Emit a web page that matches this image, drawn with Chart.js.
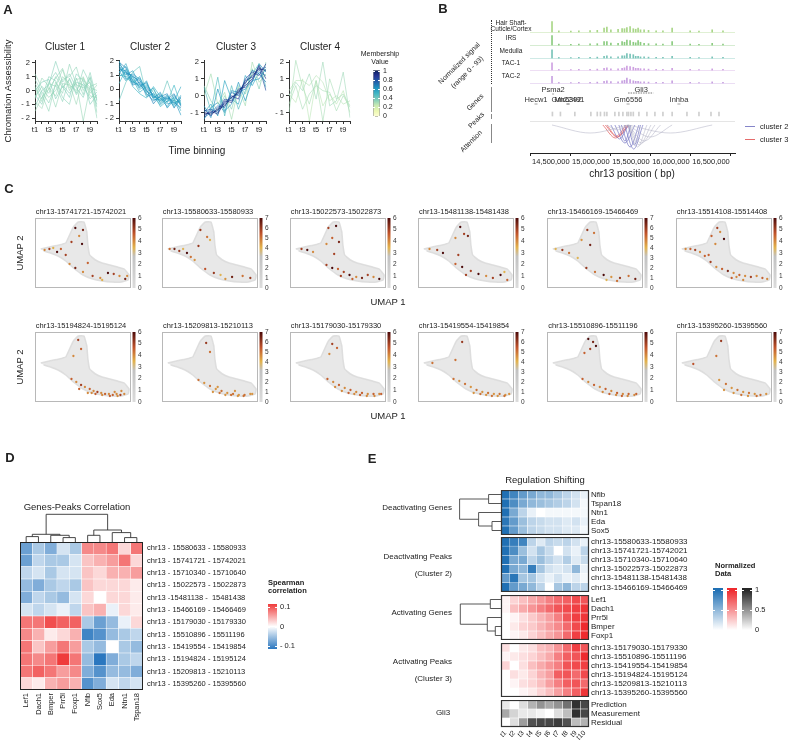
<!DOCTYPE html>
<html>
<head>
<meta charset="utf-8">
<title>Figure</title>
<script src="https://cdn.jsdelivr.net/npm/chart.js@4.4.1/dist/chart.umd.min.js"></script>
<style>
  body { margin:0; width:791px; height:742px; position:relative; overflow:hidden; background:#fff;
         font-family:"Liberation Sans", Arial, Helvetica, sans-serif; color:#222; }
  canvas { position:absolute; }
  .t { position:absolute; white-space:pre; line-height:1; transform-origin:0 0; filter:grayscale(100%); }
  .rule { position:absolute; }
</style>
</head>
<body>
<script>
// ---------------- data : panel A ----------------
const T_BINS = ['t1','t2','t3','t4','t5','t6','t7','t8','t9','t10'];

const C1_LINES = [
  [-0.5, 0.3, -0.2, 1.0, 0.2, 0.8, -0.3, 0.5, 0.1, -1.0],
  [0.2, -0.8, 0.5, 0.3, 1.5, 0.0, 0.8, 0.9, -0.4, -0.5],
  [-1.2, 0.0, 0.4, 2.1, 0.6, 1.2, 0.2, -0.5, 1.0, -0.8],
  [0.5, -0.3, -1.5, 0.6, -0.2, 1.9, 0.4, 0.2, 0.6, -2.0],
  [-0.8, -1.3, 0.2, -0.4, 1.0, 0.5, -1.0, 1.0, -0.2, 0.4],
  [0.0, 0.6, 0.8, -0.6, 0.3, -0.5, 1.2, 0.7, -1.0, -0.3],
  [-1.5, -0.5, 0.1, 0.9, 1.6, 0.2, 0.5, -2.2, 0.3, 0.5],
  [0.8, -0.1, -0.9, 0.4, -0.8, 0.9, -0.2, 1.5, 0.5, -1.2],
  [-0.3, -1.0, 0.6, 1.3, 0.4, -0.2, 0.6, 0.4, -0.6, -0.1],
  [1.2, 0.2, -0.5, 0.0, 0.8, 1.0, 1.7, 0.0, 0.9, -1.6],
  [-0.6, 0.9, 0.3, -1.2, 0.5, 0.4, 0.0, 0.8, 0.2, 0.0],
  [0.3, -0.6, 1.0, 0.7, -0.5, -1.0, 0.9, -0.3, 1.3, -0.7]
];
const C1_MEMBER = [0.35, 0.33, 0.36, 0.34, 0.32, 0.37, 0.33, 0.35, 0.36, 0.34, 0.33, 0.35];

const C2_LINES = [
  [1.8, 1.2, 0.9, 0.6, 0.1, -0.4, -0.8, -0.5, -0.9, -1.3],
  [1.5, 1.0, 1.3, 0.3, 0.4, -0.6, -0.3, -0.9, -0.4, -1.1],
  [2.0, 0.8, 0.5, 0.9, -0.2, 0.1, -1.0, -0.6, -1.2, -0.7],
  [1.2, 1.6, 0.6, 0.2, 0.5, -0.5, -0.6, -1.2, -0.5, -1.0],
  [1.6, 1.1, 1.0, 0.4, -0.3, -0.8, -0.5, -0.3, -1.3, -0.5],
  [0.4, 1.4, 0.8, 0.0, 0.3, -0.2, -1.2, -0.8, -0.6, -1.5],
  [1.3, 0.6, 1.1, 0.7, -0.5, -0.3, -0.6, -1.0, -0.9, -0.8],
  [1.9, 1.5, 0.3, 0.5, 0.0, -1.0, -0.4, -0.7, -0.3, -1.2],
  [1.0, 0.9, 0.7, -0.2, 0.2, -0.4, -0.9, -0.5, -1.0, -0.6],
  [-0.8, 0.5, 1.2, 1.6, -0.4, 0.0, -0.8, 0.6, -0.8, -0.9],
  [1.4, 1.3, 0.4, 0.8, -0.1, -0.6, -0.2, -1.3, -0.7, -1.8],
  [1.7, 0.7, 0.9, 0.1, 0.6, -0.7, -0.7, -0.4, -1.1, -0.4],
  [0.9, 1.2, 0.2, -0.3, -0.6, 0.2, -0.5, -0.9, 0.3, -1.1],
  [1.1, 1.8, 0.5, 0.3, -0.1, -0.5, -1.1, -0.6, -0.8, 0.2]
];
const C2_MEMBER = [0.62, 0.58, 0.55, 0.6, 0.64, 0.5, 0.57, 0.66, 0.53, 0.42, 0.6, 0.56, 0.5, 0.54];

const C3_LINES = [
  [-1.0, -1.1, -0.8, -0.6, -0.1, 0.2, 0.8, 1.2, 1.6, 1.5],
  [-1.2, -0.9, -1.1, -0.3, -0.4, 0.3, 0.6, 1.0, 1.8, 1.0],
  [-0.8, -1.2, -0.7, -0.5, 0.0, -0.2, 1.0, 1.4, 1.2, 1.9],
  [-1.1, -1.0, -0.9, -0.2, -0.3, 0.4, 0.5, 0.9, 1.7, 0.3],
  [-0.9, -0.8, -1.0, -0.4, -0.1, 0.1, 0.9, 1.1, 1.5, 1.7],
  [-1.3, -1.0, -0.6, -0.7, 0.2, 0.0, 0.7, 1.5, 1.3, 0.8],
  [0.5, -0.9, 1.1, -1.2, 0.6, -0.8, 0.3, 1.3, 1.9, 0.5],
  [-0.6, -1.3, 0.4, -0.9, -0.5, 0.8, -0.3, 0.9, 1.0, 1.6],
  [0.0, 1.3, -0.5, 0.2, -1.4, 0.5, -0.6, 2.0, 0.8, 1.3],
  [-1.0, -0.5, -1.2, 0.9, -0.2, -0.5, 1.2, 0.6, 1.4, 1.2],
  [-1.4, -0.7, -0.4, -1.0, 0.3, 0.2, 0.4, 0.8, 1.9, 1.4],
  [0.6, -0.3, -0.9, 0.0, -0.8, 0.6, 0.1, 1.6, 0.4, 2.0]
];
const C3_MEMBER = [0.95, 0.9, 0.85, 0.8, 0.75, 0.7, 0.45, 0.6, 0.3, 0.55, 0.65, 0.35];

const C4_LINES = [
  [-1.0, 2.1, 0.5, -0.5, 0.9, -1.5, 1.0, -0.2, 0.1, -0.6],
  [0.3, 0.9, 0.9, 0.6, 1.2, 0.8, -0.3, 0.0, -0.5, -0.3],
  [0.0, 0.8, 0.3, 1.3, -0.2, 2.0, -0.6, -0.3, 1.4, -1.3],
  [-0.5, 0.6, -0.8, 0.1, 0.6, 0.3, 0.2, -0.9, 0.0, -0.7],
  [0.1, -0.4, 1.0, -1.5, 0.9, -0.6, 0.1, -0.5, 0.3, -1.0]
];
const C4_MEMBER = [0.3, 0.28, 0.32, 0.3, 0.27];

const MEMBER_TICKS = [0, 0.2, 0.4, 0.6, 0.8, 1];

// ---------------- data : panel B ----------------
const TRACK_NAMES = ['Hair Shaft-Cuticle/Cortex', 'IRS', 'Medulla', 'TAC-1', 'TAC-2'];
const PEAK_POS = [14515000, 14990000, 15080000, 15165000, 15200000, 15340000, 15390000, 15450000,
                  15490000, 15530000, 15590000, 15665000, 15815000, 16015000, 16240000, 16515000,
                  14600000, 14750000, 14850000, 15250000, 15420000, 15560000, 15620000, 15720000,
                  15900000, 16350000, 16650000];
const SIG_HAIR    = [0.95, 0.12, 0.15, 0.35, 0.45, 0.25, 0.3, 0.4, 0.5, 0.3, 0.35, 0.2, 0.1, 0.35, 0.1, 0.2,
                     0.1, 0.08, 0.1, 0.2, 0.3, 0.25, 0.2, 0.15, 0.1, 0.08, 0.1];
const SIG_IRS     = [0.85, 0.1, 0.12, 0.3, 0.3, 0.15, 0.3, 0.45, 0.4, 0.25, 0.4, 0.15, 0.1, 0.3, 0.08, 0.15,
                     0.08, 0.06, 0.08, 0.18, 0.25, 0.2, 0.25, 0.12, 0.08, 0.06, 0.08];
const SIG_MEDULLA = [0.75, 0.05, 0.08, 0.15, 0.2, 0.1, 0.2, 0.4, 0.35, 0.3, 0.15, 0.1, 0.05, 0.15, 0.05, 0.1,
                     0.05, 0.04, 0.05, 0.1, 0.2, 0.15, 0.1, 0.08, 0.05, 0.04, 0.05];
const SIG_TAC1    = [0.65, 0.05, 0.08, 0.15, 0.2, 0.1, 0.15, 0.35, 0.3, 0.25, 0.15, 0.1, 0.05, 0.15, 0.05, 0.1,
                     0.05, 0.04, 0.05, 0.1, 0.2, 0.15, 0.12, 0.08, 0.05, 0.04, 0.05];
const SIG_TAC2    = [0.6, 0.05, 0.08, 0.15, 0.2, 0.1, 0.2, 0.45, 0.3, 0.2, 0.15, 0.1, 0.05, 0.2, 0.05, 0.1,
                     0.05, 0.04, 0.05, 0.12, 0.25, 0.15, 0.1, 0.08, 0.05, 0.04, 0.05];
const PEAK_SITES = [14520000, 14620000, 14800000, 15000000, 15080000, 15120000, 15170000, 15200000, 15300000,
                    15350000, 15400000, 15450000, 15470000, 15500000, 15530000, 15600000, 15700000, 15800000,
                    15900000, 16015000, 16200000, 16350000, 16500000, 16600000];
const GENES_UPPER = ['Psma2', 'Gli3'];
const GENES_UPPER_POS = [14528000, 15628000];
const GLI3_SPAN = [15465000, 15780000];
const GENES_LOWER = ['Hecw1', 'Mir6392', 'Gm22491', 'Gm6556', 'Inhba'];
const GENES_LOWER_POS = [14315000, 14715000, 14715000, 15465000, 16100000];
const ARC_START = [14515000, 15465000, 15465000, 15465000, 15465000, 15465000, 15200000, 15465000,
                   15250000, 15300000, 15380000, 15420000, 15465000, 15350000, 15150000, 15200000, 15180000];
const ARC_END   = [15465000, 16515000, 16015000, 15870000, 15800000, 15750000, 15465000, 15700000,
                   15465000, 15550000, 15600000, 15650000, 15620000, 15500000, 15465000, 15440000, 15480000];
const ARC_WEIGHT = [8, 8, 12, 16, 18, 20, 5, 22, 14, 18, 22, 24, 20, 16, 13, 11, 12];
const ARC_GROUP  = [0, 0, 0, 0, 0, 0, 0, 0, 2, 2, 2, 2, 2, 2, 3, 3, 3];
const B_TICKS = [14500000, 15000000, 15500000, 16000000, 16500000];

// ---------------- data : panel C ----------------
const UMAP_X = [0.6, 1.5, 2.5, 3.2, 3.6, 4.0, 4.5, 5.1, 5.4, 5.5, 5.7, 6.3, 7.0, 7.8, 8.6, 9.3, 9.8, 9.7,
                9.0, 8.0, 7.0, 6.0, 5.0, 4.0, 3.2, 2.4, 1.6, 0.9];
const UMAP_Y = [3.9, 4.1, 4.3, 4.5, 5.3, 6.1, 6.6, 6.6, 5.6, 4.4, 3.3, 2.8, 2.5, 2.3, 2.1, 1.9, 1.3, 0.8,
                0.6, 0.6, 0.7, 0.9, 1.3, 2.0, 2.7, 3.2, 3.5, 3.7];
const C_TITLES = ['chr13-15741721-15742021', 'chr13-15580633-15580933', 'chr13-15022573-15022873',
                  'chr13-15481138-15481438', 'chr13-15466169-15466469', 'chr13-15514108-15514408',
                  'chr13-15194824-15195124', 'chr13-15209813-15210113', 'chr13-15179030-15179330',
                  'chr13-15419554-15419854', 'chr13-15510896-15511196', 'chr13-15395260-15395560'];
const C_MAX = [6, 7, 6, 6, 7, 6, 6, 7, 6, 7, 6, 7];
const DOTS_1 = [[1.0,3.8,4],[1.5,3.9,5],[1.9,4.0,3.5],[2.3,3.6,6],[2.7,3.9,4.5],[3.2,3.3,5],[4.2,6.0,6],[5.0,5.8,5.5],[4.6,5.2,4],[3.8,4.6,5],[4.9,4.4,6],[3.6,2.4,4],[4.2,2.0,5.5],[5.0,1.6,4],[6.0,1.2,5],[6.8,1.0,4],[7.6,1.5,6],[8.2,1.4,5],[8.8,1.2,4],[9.4,0.9,5.5],[9.6,1.2,4],[5.5,2.5,4.5],[7.0,0.8,3.5]];
const DOTS_2 = [[0.8,3.9,5],[1.3,3.9,6.5],[1.8,3.7,6],[2.2,3.9,4],[2.6,3.5,7],[3.0,3.1,5],[3.4,2.8,4.5],[4.0,5.8,6],[4.7,5.1,5],[3.8,4.2,6],[4.5,1.9,5.5],[5.4,1.5,6],[6.1,1.3,4],[7.3,1.1,6.5],[8.4,1.2,5],[9.2,1.0,6],[6.6,0.9,4.5],[5.0,4.8,4]];
const DOTS_3 = [[4.0,6.0,5],[4.8,6.2,6],[4.4,5.0,4.5],[5.1,4.6,5.5],[3.8,4.4,4],[1.2,3.9,5],[1.8,3.8,6],[2.4,3.6,4],[3.8,2.3,5],[4.4,2.0,6],[5.0,1.9,4.5],[5.6,1.6,5],[6.2,1.3,6],[6.9,1.1,4],[7.5,1.0,5.5],[8.1,1.3,5],[8.7,1.1,4],[9.3,0.9,6],[5.3,1.2,5],[6.5,0.9,4.5],[4.6,3.4,5]];
const DOTS_4 = [[4.4,6.1,6],[4.8,5.4,5],[3.9,5.0,4],[5.2,5.2,5.5],[1.2,3.9,4],[2.0,3.8,5],[2.6,3.5,6],[4.2,3.3,5],[3.9,2.4,4.5],[4.6,2.1,6],[5.5,1.7,5],[6.3,1.4,6],[7.1,1.2,4],[7.8,1.0,5],[8.6,1.3,6],[9.3,0.8,4.5],[5.0,1.3,5],[9.0,1.6,3.5]];
const DOTS_5 = [[4.2,5.8,6],[4.9,5.5,5],[3.6,4.8,4.5],[4.5,4.3,6.5],[0.9,3.9,4],[1.6,3.8,6],[2.3,3.5,5],[3.2,3.0,4],[4.1,2.0,6],[5.0,1.6,5],[5.9,1.3,7],[6.7,1.1,4.5],[7.6,1.0,6],[8.5,1.2,5],[9.2,0.9,6.5],[6.2,0.8,4],[7.3,0.7,5]];
const DOTS_6 = [[4.3,6.0,5],[4.6,5.6,4],[3.7,5.2,4.5],[5.0,4.9,6],[4.1,4.4,4],[1.0,3.9,4],[1.5,3.9,4.5],[2.0,3.8,5],[2.5,3.6,4],[3.0,3.2,4.5],[3.6,2.6,5],[4.2,2.1,4],[4.8,1.9,4.5],[5.4,1.7,5.5],[6.0,1.5,4],[6.6,1.3,4.5],[7.2,1.2,4],[7.8,1.1,5],[8.4,1.2,4],[9.0,1.0,4.5],[9.5,0.9,4],[5.8,1.0,4.5],[7.0,0.8,4],[3.4,3.3,4.5],[6.3,1.1,4]];
const DOTS_7 = [[4.5,6.2,5],[4.8,5.3,4.5],[4.0,4.6,4],[3.8,2.3,4.5],[4.3,2.0,4],[4.8,1.7,5],[5.2,1.5,4],[5.7,1.3,4.5],[6.1,1.1,4],[6.5,1.0,5],[6.9,0.9,4],[7.3,0.8,4.5],[7.7,0.8,4],[8.1,0.7,4.5],[8.5,0.8,4],[8.9,0.7,5],[9.3,0.8,4],[5.5,0.9,4],[6.3,0.8,4.5],[7.0,0.7,4],[7.8,0.6,4.5],[8.6,0.6,4],[9.0,1.1,4],[4.6,1.3,4.5],[5.9,0.9,4],[8.3,1.0,4]];
const DOTS_8 = [[4.6,5.9,6],[5.0,5.0,5],[3.8,2.2,5],[4.4,1.9,4.5],[5.0,1.6,5],[5.6,1.3,4.5],[6.2,1.1,5],[6.8,0.9,4.5],[7.4,0.8,5],[8.0,0.7,4.5],[8.6,0.7,5],[9.2,0.8,4.5],[5.3,1.0,4.5],[6.0,0.9,5],[6.6,0.7,4.5],[7.2,0.7,5],[7.9,0.6,4.5],[8.5,0.6,5],[9.4,0.8,4.5],[5.8,1.5,4.5],[7.6,1.1,4.5]];
const DOTS_9 = [[4.4,5.8,5],[4.9,5.4,4.5],[4.1,4.8,4],[3.9,2.3,4.5],[4.5,2.0,4],[5.1,1.7,4.5],[5.7,1.4,4],[6.3,1.2,4.5],[6.9,1.0,4],[7.5,0.9,4.5],[8.1,0.8,4],[8.7,0.8,4.5],[9.3,0.8,4],[5.4,1.1,4],[6.1,0.9,4.5],[6.7,0.8,4],[7.3,0.7,4.5],[8.0,0.6,4],[8.8,0.6,4],[9.5,0.8,4.5],[4.7,1.5,4]];
const DOTS_10 = [[4.6,6.0,6],[3.9,4.2,5],[1.5,3.9,5],[3.7,2.3,5],[4.3,2.1,4.5],[4.9,1.8,5],[5.5,1.5,4.5],[6.1,1.2,5],[6.7,1.0,4.5],[7.3,0.9,5],[7.9,0.8,4.5],[8.5,0.8,5],[9.1,0.7,4.5],[5.8,0.9,4.5],[6.5,0.8,5],[7.1,0.7,4.5],[7.7,0.6,5],[8.3,0.6,4.5],[9.0,0.6,5],[9.5,0.8,4.5]];
const DOTS_11 = [[4.3,6.3,6],[4.8,6.0,5.5],[5.1,5.6,6],[4.5,5.3,5],[3.9,4.9,4.5],[3.7,2.3,4.5],[4.3,2.0,4],[4.9,1.7,4.5],[5.5,1.5,4],[6.1,1.3,4.5],[6.7,1.1,4],[7.3,0.9,4.5],[7.9,0.8,4],[8.5,0.8,4.5],[9.1,0.7,4],[5.8,1.0,4],[6.5,0.8,4.5],[7.2,0.7,4],[7.8,0.6,4.5],[8.4,0.6,4],[9.3,0.8,4.5]];
const DOTS_12 = [[4.7,6.1,6],[4.2,4.6,5],[1.8,3.8,5.5],[4.5,2.2,4.5],[5.2,1.8,5],[5.8,1.4,4.5],[6.4,1.2,5],[7.0,1.0,4.5],[7.6,0.9,5],[8.2,0.8,4.5],[8.8,0.7,5],[9.4,0.8,4.5],[6.0,0.9,4.5],[6.8,0.7,5],[7.5,0.6,4.5],[8.4,0.6,5],[5.0,1.2,4.5]];
const C_DOTS = [DOTS_1, DOTS_2, DOTS_3, DOTS_4, DOTS_5, DOTS_6, DOTS_7, DOTS_8, DOTS_9, DOTS_10, DOTS_11, DOTS_12];

// ---------------- data : panel D ----------------
const D_GENES = ['Lef1', 'Dach1', 'Bmper', 'Prr5l', 'Foxp1', 'Nfib', 'Sox5', 'Eda', 'Ntn1', 'Tspan18'];
const D_PEAKS = ['chr13 - 15580633 - 15580933', 'chr13 - 15741721 - 15742021', 'chr13 - 15710340 - 15710640',
                 'chr13 - 15022573 - 15022873', 'chr13 -15481138 -  15481438', 'chr13 - 15466169 - 15466469',
                 'chr13 - 15179030 - 15179330', 'chr13 - 15510896 - 15511196', 'chr13 - 15419554 - 15419854',
                 'chr13 - 15194824 - 15195124', 'chr13 - 15209813 - 15210113', 'chr13 - 15395260 - 15395560'];
const D_CORR = [
  [-0.07, -0.04, -0.06, -0.02, -0.04, 0.06, 0.06, 0.07, 0.02, 0.07],
  [-0.07, -0.03, -0.04, -0.04, -0.02, 0.03, 0.04, 0.05, 0.07, 0.02],
  [-0.03, -0.02, -0.04, -0.02, -0.02, 0.03, 0.02, 0.04, 0.04, 0.05],
  [-0.05, -0.06, -0.04, -0.03, -0.04, 0.03, 0.02, 0.02, 0.02, 0.01],
  [-0.06, -0.03, -0.04, -0.05, -0.02, 0.02, 0.0, 0.02, 0.02, 0.01],
  [-0.02, -0.03, -0.02, -0.01, -0.03, 0.03, 0.04, -0.01, 0.02, 0.01],
  [0.07, 0.07, 0.09, 0.08, 0.08, -0.04, -0.07, -0.05, -0.01, 0.02],
  [0.06, 0.04, 0.01, 0.02, 0.04, -0.09, -0.08, -0.05, -0.04, -0.03],
  [0.07, 0.03, 0.05, 0.07, 0.05, -0.04, -0.05, 0.0, -0.04, -0.05],
  [0.07, 0.06, 0.07, 0.1, 0.07, -0.05, -0.1, -0.06, -0.04, -0.03],
  [0.07, 0.08, 0.07, 0.05, 0.06, -0.06, -0.08, -0.05, -0.05, -0.06],
  [0.02, 0.01, 0.04, 0.05, 0.04, -0.08, -0.06, -0.02, -0.03, -0.02]
];
// merges: [child, child, height]; children >= 10 refer to earlier merges
const D_DENDRO = [[0,1,5.4],[3,4,4.4],[2,11,6.7],[10,12,7.7],[5,6,6.7],[8,9,4.4],[7,15,9.4],[14,16,12],[13,17,27.7]];
const D_LEGEND_TICKS = [-0.1, 0, 0.1];

// ---------------- data : panel E ----------------
const E_DEACT_GENES = ['Nfib', 'Tspan18', 'Ntn1', 'Eda', 'Sox5'];
const E_DEACT_GENE_VALS = [
  [1, 0.85, 0.7, 0.6, 0.5, 0.5, 0.4, 0.3, 0.2, 0.1],
  [1, 0.8, 0.6, 0.5, 0.45, 0.4, 0.35, 0.3, 0.2, 0.05],
  [1, 0.6, 0.3, 0.1, 0.0, 0.05, 0.05, 0.05, 0.05, 0.05],
  [0.95, 0.7, 0.45, 0.3, 0.25, 0.2, 0.2, 0.15, 0.2, 0.1],
  [1, 0.7, 0.45, 0.3, 0.25, 0.2, 0.2, 0.15, 0.15, 0.05]
];
const E_DEACT_DENDRO = [[0,1,12.4],[3,4,9],[2,6,22.4],[5,7,41.4]];
const E_DEACT_PEAKS = ['chr13-15580633-15580933', 'chr13-15741721-15742021', 'chr13-15710340-15710640',
                       'chr13-15022573-15022873', 'chr13-15481138-15481438', 'chr13-15466169-15466469'];
const E_DEACT_PEAK_VALS = [
  [1, 0.9, 0.85, 0.3, 0.15, 0.3, 0.25, 0.3, 0.2, 0.1],
  [1, 0.8, 0.45, 0.2, 0.4, 0.25, 0.0, 0.2, 0.1, 0.3],
  [1, 0.6, 0.6, 0.3, 0.45, 0.3, 0.2, 0.35, 0.15, 0.25],
  [1, 0.6, 0.5, 0.9, 0.4, 0.2, 0.15, 0.2, 0.5, 0.1],
  [0.7, 0.95, 0.4, 0.4, 0.2, 0.1, 0.2, 0.1, 0.15, 0.05],
  [1, 0.7, 0.6, 0.5, 0.3, 0.0, 0.4, 0.5, 0.3, 0.3]
];
const E_ACT_GENES = ['Lef1', 'Dach1', 'Prr5l', 'Bmper', 'Foxp1'];
const E_ACT_GENE_VALS = [
  [0.05, 0.2, 0.3, 0.4, 0.5, 0.6, 0.7, 0.75, 0.85, 0.8],
  [0.05, 0.3, 0.4, 0.5, 0.6, 0.7, 0.8, 0.85, 0.9, 0.95],
  [0.0, 0.05, 0.15, 0.25, 0.35, 0.45, 0.6, 0.8, 0.9, 0.95],
  [0.0, 0.1, 0.2, 0.25, 0.35, 0.45, 0.55, 0.7, 0.85, 1],
  [0.0, 0.05, 0.1, 0.2, 0.3, 0.4, 0.5, 0.7, 0.9, 1]
];
const E_ACT_DENDRO = [[0,1,10.7],[3,4,5.7],[2,6,13.7],[5,7,40.7]];
const E_ACT_PEAKS = ['chr13-15179030-15179330', 'chr13-15510896-15511196', 'chr13-15419554-15419854',
                     'chr13-15194824-15195124', 'chr13-15209813-15210113', 'chr13-15395260-15395560'];
const E_ACT_PEAK_VALS = [
  [0.15, 0.0, 0.1, 0.15, 0.3, 0.35, 0.5, 0.7, 0.9, 0.8],
  [0.05, 0.1, 0.15, 0.2, 0.3, 0.4, 0.6, 0.75, 0.8, 1],
  [0.2, 0.0, 0.15, 0.3, 0.4, 0.5, 0.6, 0.8, 0.85, 0.9],
  [0.0, 0.15, 0.1, 0.2, 0.35, 0.45, 0.75, 0.8, 0.7, 0.85],
  [0.0, 0.05, 0.15, 0.2, 0.3, 0.45, 0.6, 0.75, 0.8, 0.7],
  [0.0, 0.0, 0.05, 0.1, 0.2, 0.3, 0.45, 0.6, 0.75, 0.95]
];
const E_GLI3_ROWS = ['Prediction', 'Measurement', 'Residual'];
const E_GLI3_VALS = [
  [0.1, 0.0, 0.15, 0.35, 0.5, 0.4, 0.5, 0.65, 0.95, 0.85],
  [0.4, 0.2, 0.1, 0.1, 0.05, 0.0, 0.15, 0.3, 0.95, 0.85],
  [0.0, 0.15, 0.45, 0.8, 0.85, 0.85, 0.9, 0.8, 0.3, 0.35]
];
const E_LEGEND_TICKS = [0, 0.5, 1];

// ---------------- colours ----------------
const YLGNBU = [[0,'#ffffd9'],[0.125,'#edf8b1'],[0.25,'#c7e9b4'],[0.375,'#7fcdbb'],[0.5,'#41b6c4'],
                [0.625,'#1d91c0'],[0.75,'#225ea8'],[0.875,'#253494'],[1,'#081d58']];
const UMAP_STOPS = [[0,'#dcdcdc'],[0.45,'#c2c2c2'],[0.58,'#e2b24c'],[0.78,'#c0532b'],[1,'#4b0a0a']];
const TRACK_COLORS = ['rgba(140,200,95,0.75)', 'rgba(100,185,85,0.75)', 'rgba(75,175,160,0.75)', 'rgba(190,130,215,0.75)', 'rgba(180,130,215,0.75)'];
const ARC_COLORS = { 0: 'rgba(175,175,195,0.65)', 2: 'rgba(112,112,192,0.85)', 3: 'rgba(226,92,92,0.9)' };

Chart.defaults.font.family = '"Liberation Sans", Arial, Helvetica, sans-serif';
Chart.defaults.color = '#222';
Chart.defaults.animation = false;
Chart.defaults.responsive = false;
Chart.defaults.devicePixelRatio = 1;
Chart.defaults.events = [];
Chart.defaults.plugins.legend.display = false;
Chart.defaults.plugins.tooltip.enabled = false;

function hexToRgb(h) { return [parseInt(h.slice(1,3),16), parseInt(h.slice(3,5),16), parseInt(h.slice(5,7),16)]; }
function ramp(stops, t) {
  t = Math.max(0, Math.min(1, t));
  for (let i = 1; i < stops.length; i++) {
    if (t <= stops[i][0]) {
      const a = stops[i-1], b = stops[i];
      const f = (t - a[0]) / (b[0] - a[0]);
      const ca = hexToRgb(a[1]), cb = hexToRgb(b[1]);
      return 'rgb(' + ca.map((v, k) => Math.round(v + (cb[k] - v) * f)).join(',') + ')';
    }
  }
  return stops[stops.length-1][1];
}
function withAlpha(rgb, a) { return rgb.replace('rgb(', 'rgba(').replace(')', ',' + a + ')'); }
function divColor(v) {
  const t = Math.max(-1, Math.min(1, v / 0.1));
  return t >= 0 ? ramp([[0,'#ffffff'],[1,'#ef3b3b']], t) : ramp([[0,'#ffffff'],[1,'#2b77bf']], -t);
}
function vGrad(ctx, yTop, yBot, stops) {
  const g = ctx.createLinearGradient(0, yBot, 0, yTop);
  stops.forEach(s => g.addColorStop(s[0], s[1]));
  return g;
}
// vertical axes: keep the plot box exactly where it is placed
function noPad(s) { s.paddingTop = 0; s.paddingBottom = 0; }

function txt(s, x, y, o) {
  o = o || {};
  const d = document.createElement('div');
  d.className = 't';
  d.textContent = s;
  d.style.fontSize = (o.size || 8) + 'px';
  if (o.bold) d.style.fontWeight = 'bold';
  const ax = o.align === 'left' ? '0%' : o.align === 'right' ? '-100%' : '-50%';
  d.style.left = x + 'px';
  d.style.top = y + 'px';
  d.style.transform = 'rotate(' + (o.rot || 0) + 'deg) translate(' + ax + ',-50%)';
  document.body.appendChild(d);
}
function rule(x, y, w, h, css) {
  const d = document.createElement('div');
  d.className = 'rule';
  d.style.left = x + 'px'; d.style.top = y + 'px';
  d.style.width = w + 'px'; d.style.height = h + 'px';
  d.style.cssText += css;
  document.body.appendChild(d);
}
function canvasAt(x, y, w, h) {
  const c = document.createElement('canvas');
  c.width = w; c.height = h;
  c.style.left = x + 'px'; c.style.top = y + 'px';
  c.style.width = w + 'px'; c.style.height = h + 'px';
  document.body.appendChild(c);
  return c;
}
function dendro(ctx, merges, leaves, map, color) {
  const nodes = leaves.map(p => ({ p: p, h: 0 }));
  ctx.save();
  ctx.strokeStyle = color || '#333';
  ctx.lineWidth = 0.9;
  ctx.beginPath();
  merges.forEach(m => {
    const a = nodes[m[0]], b = nodes[m[1]];
    const pts = [map(a.p, a.h), map(a.p, m[2]), map(b.p, m[2]), map(b.p, b.h)];
    ctx.moveTo(pts[0][0], pts[0][1]);
    pts.slice(1).forEach(q => ctx.lineTo(q[0], q[1]));
    nodes.push({ p: (a.p + b.p) / 2, h: m[2] });
  });
  ctx.stroke();
  ctx.restore();
}
function legendBar(o) {
  const c = canvasAt(o.x, o.y - 6, o.w + o.labelW, o.h + 12);
  return new Chart(c, {
    type: 'scatter',
    data: { datasets: [] },
    options: {
      layout: { padding: { top: 6, bottom: 6 } },
      scales: {
        x: { display: false, min: 0, max: 1 },
        y: { position: 'right', min: o.min, max: o.max,
             afterFit: s => { s.width = o.labelW; noPad(s); },
             afterBuildTicks: s => { s.ticks = o.ticks.map(v => ({ value: v })); },
             ticks: { autoSkip: false, font: { size: o.size }, padding: o.pad, callback: o.fmt, color: '#222' },
             grid: { display: false, drawTicks: false }, border: { display: false } }
      }
    },
    plugins: [{ id: 'paint', beforeDatasetsDraw: ch => o.paint(ch.ctx, ch.chartArea, ch.scales.y) }]
  });
}
function whiteTicks(ctx, x0, x1, sy, vals) {
  ctx.save();
  ctx.strokeStyle = '#fff';
  ctx.lineWidth = 1;
  ctx.beginPath();
  vals.forEach(v => {
    const y = Math.round(sy.getPixelForValue(v)) + 0.5;
    ctx.moveTo(x0, y); ctx.lineTo(x0 + 2, y);
    ctx.moveTo(x1 - 2, y); ctx.lineTo(x1, y);
  });
  ctx.stroke();
  ctx.restore();
}

// ================= PANEL A =================
txt('A', 8, 9, { size: 13, bold: true });
txt('Chromation Assessibility', 8, 91, { size: 9.5, rot: -90 });
txt('Time binning', 197, 151, { size: 10 });
txt('Membership', 380, 53, { size: 7 });
txt('Value', 380, 61, { size: 7 });

const A_PANELS = [
  { title: 'Cluster 1', lines: C1_LINES, member: C1_MEMBER, alpha: 0.75, min: -2.2, max: 2.2, ticks: [-2,-1,0,1,2], left: 35, width: 62, cx: 65 },
  { title: 'Cluster 2', lines: C2_LINES, member: C2_MEMBER, alpha: 0.8, min: -2.2, max: 2.05, ticks: [-2,-1,0,1,2], left: 119, width: 62, cx: 150 },
  { title: 'Cluster 3', lines: C3_LINES, member: C3_MEMBER, alpha: 0.85, min: -1.5, max: 2.12, ticks: [-1,0,1,2], left: 204, width: 62, cx: 236 },
  { title: 'Cluster 4', lines: C4_LINES, member: C4_MEMBER, alpha: 0.75, min: -1.5, max: 2.12, ticks: [-1,0,1,2], left: 289, width: 61, cx: 320 }
];
A_PANELS.forEach(p => {
  txt(p.title, p.cx, 47, { size: 10 });
  const L = 20, T = 5, R = 4, B = 20, H = 61;
  const c = canvasAt(p.left - L, 60 - T, p.width + L + R, H + T + B);
  new Chart(c, {
    type: 'line',
    data: {
      labels: T_BINS,
      datasets: p.lines.map((ln, k) => ({
        data: ln,
        borderColor: withAlpha(ramp(YLGNBU, p.member[k]), p.alpha),
        borderWidth: 0.8, pointRadius: 0, tension: 0
      }))
    },
    options: {
      layout: { padding: { top: T, right: R } },
      scales: {
        x: { offset: false, afterFit: s => { s.height = B; },
             grid: { drawOnChartArea: false, tickLength: 3, color: '#333' }, border: { color: '#333' },
             ticks: { autoSkip: false, maxRotation: 0, padding: 1, font: { size: 7.5 }, color: '#222',
                      callback: (v, i) => i % 2 === 0 ? T_BINS[i] : '' } },
        y: { min: p.min, max: p.max, afterFit: s => { s.width = L; noPad(s); },
             afterBuildTicks: s => { s.ticks = p.ticks.map(v => ({ value: v })); },
             grid: { drawOnChartArea: false, tickLength: 3, color: '#333' }, border: { color: '#333' },
             ticks: { autoSkip: false, font: { size: 7.5 }, padding: 2, color: '#222', callback: v => v < 0 ? '- ' + (-v) : String(v) } }
      }
    }
  });
});
legendBar({
  x: 373, y: 70, w: 7, h: 47, labelW: 24, min: -0.02, max: 1.02, ticks: MEMBER_TICKS, size: 7, pad: 3,
  fmt: v => String(v),
  paint: (ctx, a, sy) => {
    ctx.fillStyle = vGrad(ctx, a.top, a.bottom, YLGNBU);
    ctx.fillRect(a.left, a.top, a.right - a.left, a.bottom - a.top);
    ctx.strokeStyle = '#999'; ctx.lineWidth = 0.6;
    ctx.strokeRect(a.left + 0.3, a.top + 0.3, a.right - a.left - 0.6, a.bottom - a.top - 0.6);
    whiteTicks(ctx, a.left, a.right, sy, MEMBER_TICKS);
  }
});

// ================= PANEL B =================
txt('B', 443, 8, { size: 13, bold: true });
[['Hair Shaft-', 22.5], ['Cuticle/Cortex', 29], ['IRS', 38], ['Medulla', 51], ['TAC-1', 63], ['TAC-2', 76]]
  .forEach(l => txt(l[0], 511, l[1], { size: 6.5 }));
rule(491, 20, 0, 64, 'border-left:1.3px dotted #333;');
rule(490.5, 87, 1.5, 25, 'background:#888;');
rule(490.5, 114, 1.5, 5, 'background:#888;');
rule(490.5, 124, 1.5, 19, 'background:#888;');
txt('Normalized signal', 459, 63, { size: 7, rot: -45 });
txt('(range 0 - 93)', 467, 72, { size: 7, rot: -45 });
txt('Genes', 475, 102, { size: 7, rot: -45 });
txt('Peaks', 476, 120, { size: 7, rot: -45 });
txt('Attention', 471, 141, { size: 7, rot: -45 });
txt('chr13 position ( bp)', 632, 174, { size: 10 });
rule(745, 126, 10, 1.2, 'background:' + ARC_COLORS[2] + ';');
rule(745, 139, 10, 1.2, 'background:' + ARC_COLORS[3] + ';');
txt('cluster 2', 760, 126.5, { size: 7.5, align: 'left' });
txt('cluster 3', 760, 139.5, { size: 7.5, align: 'left' });

// vertical layout of the track stack, in pixels below the chart top
const TRACK_BASE = [17, 30, 43, 55, 68];
const TRACK_SPAN = 11;
const SIGNALS = [SIG_HAIR, SIG_IRS, SIG_MEDULLA, SIG_TAC1, SIG_TAC2];
const Y_UPPER_GENE = 75, Y_GLI3 = 78, Y_LOWER_GENE = 85, Y_GENE_MARK = 89, Y_PEAK_TOP = 97, Y_PEAK_BOT = 101, Y_PEAK_LINE = 106, Y_ARC = 110;

const bCanvas = canvasAt(520, 15, 223, 138 + 14);
new Chart(bCanvas, {
  type: 'bar',
  data: {
    datasets: [
      ...SIGNALS.map((sig, k) => ({
        type: 'bar', grouped: false, barThickness: 1, backgroundColor: TRACK_COLORS[k],
        data: PEAK_POS.map((p, i) => ({ x: p, y: [TRACK_BASE[k], TRACK_BASE[k] - sig[i] * TRACK_SPAN] }))
      })),
      { type: 'bar', grouped: false, barThickness: 1, backgroundColor: '#cfcfcf',
        data: PEAK_SITES.map(p => ({ x: p, y: [Y_PEAK_BOT, Y_PEAK_TOP] })) },
      ...ARC_START.map((s, i) => ({
        type: 'line', borderColor: ARC_COLORS[ARC_GROUP[i]], borderWidth: 0.8, pointRadius: 0,
        cubicInterpolationMode: 'monotone',
        data: [{ x: s, y: Y_ARC }, { x: (s + ARC_END[i]) / 2, y: Y_ARC + ARC_WEIGHT[i] }, { x: ARC_END[i], y: Y_ARC }]
      }))
    ]
  },
  options: {
    layout: { padding: { left: 10, right: 8 } },
    scales: {
      x: { type: 'linear', offset: false, min: 14240000, max: 16800000,
           afterFit: s => { s.height = 14; },
           afterBuildTicks: s => { s.ticks = B_TICKS.map(v => ({ value: v })); },
           grid: { drawOnChartArea: false, tickLength: 3, color: '#222' }, border: { color: '#222' },
           ticks: { autoSkip: false, font: { size: 7.5 }, padding: 1, maxRotation: 0, color: '#222', callback: v => v.toLocaleString('en-US') } },
      y: { display: false, reverse: true, min: 0, max: 138 }
    }
  },
  plugins: [{
    id: 'tracks',
    beforeDatasetsDraw(ch) {
      const ctx = ch.ctx, a = ch.chartArea, sy = ch.scales.y;
      ctx.save();
      ctx.lineWidth = 0.6;
      TRACK_BASE.forEach((b, k) => {
        const y = Math.round(sy.getPixelForValue(b)) + 0.5;
        ctx.strokeStyle = TRACK_COLORS[k];
        ctx.globalAlpha = 0.6;
        ctx.beginPath(); ctx.moveTo(a.left, y); ctx.lineTo(a.right, y); ctx.stroke();
      });
      ctx.globalAlpha = 1;
      const yp = Math.round(sy.getPixelForValue(Y_PEAK_LINE)) + 0.5;
      ctx.strokeStyle = '#d4d4d4';
      ctx.beginPath(); ctx.moveTo(a.left, yp); ctx.lineTo(a.right, yp); ctx.stroke();
      ctx.restore();
    },
    afterDatasetsDraw(ch) {
      const ctx = ch.ctx, sx = ch.scales.x, sy = ch.scales.y;
      ctx.save();
      ctx.font = '7.5px "Liberation Sans", Arial, sans-serif';
      ctx.fillStyle = '#333';
      ctx.textAlign = 'center';
      ctx.textBaseline = 'middle';
      GENES_UPPER.forEach((g, i) => ctx.fillText(g, sx.getPixelForValue(GENES_UPPER_POS[i]), sy.getPixelForValue(Y_UPPER_GENE)));
      GENES_LOWER.forEach((g, i) => ctx.fillText(g, sx.getPixelForValue(GENES_LOWER_POS[i]), sy.getPixelForValue(Y_LOWER_GENE)));
      ctx.strokeStyle = '#555';
      ctx.lineWidth = 0.8;
      ctx.setLineDash([1.5, 1]);
      const yg = sy.getPixelForValue(Y_GLI3);
      ctx.beginPath(); ctx.moveTo(sx.getPixelForValue(GLI3_SPAN[0]), yg); ctx.lineTo(sx.getPixelForValue(GLI3_SPAN[1]), yg); ctx.stroke();
      ctx.setLineDash([]);
      ctx.strokeStyle = '#888';
      ctx.beginPath();
      const ym = sy.getPixelForValue(Y_GENE_MARK);
      GENES_LOWER_POS.forEach(p => { const x = sx.getPixelForValue(p); ctx.moveTo(x - 1.5, ym); ctx.lineTo(x + 1.5, ym); });
      const yu = sy.getPixelForValue(Y_UPPER_GENE + 4);
      GENES_UPPER_POS.slice(0, 1).forEach(p => { const x = sx.getPixelForValue(p); ctx.moveTo(x - 1, yu); ctx.lineTo(x + 1, yu); });
      ctx.stroke();
      ctx.restore();
    }
  }]
});

// ================= PANEL C =================
txt('C', 9, 188, { size: 13, bold: true });
const C_BOX_X = [31, 158, 286, 414, 543, 672];
const C_BOX_Y = [218, 332];
const C_BOX_W = 100, C_BOX_H = 70, C_PAD = 6;
txt('UMAP 2', 20, 253, { size: 9.5, rot: -90 });
txt('UMAP 2', 20, 367, { size: 9.5, rot: -90 });
txt('UMAP 1', 388, 302, { size: 9.5 });
txt('UMAP 1', 388, 416, { size: 9.5 });

const umapDeco = {
  id: 'umapDeco',
  afterDraw(ch) {
    const ctx = ch.ctx, a = ch.chartArea, cb = ch.scales.cb;
    ctx.save();
    ctx.strokeStyle = '#b8b8b8';
    ctx.lineWidth = 1;
    ctx.strokeRect(a.left + 0.5, a.top + 0.5, a.right - a.left - 1, a.bottom - a.top - 1);
    ctx.fillStyle = vGrad(ctx, a.top, a.bottom, UMAP_STOPS);
    ctx.fillRect(cb.left + 1.5, a.top, 3, a.bottom - a.top);
    ctx.restore();
  }
};
C_TITLES.forEach((title, k) => {
  const row = Math.floor(k / 6), col = k % 6;
  const bx = C_BOX_X[col], by = C_BOX_Y[row];
  const maxV = C_MAX[k], dots = C_DOTS[k];
  txt(title, bx + C_BOX_W / 2, by - 6, { size: 7.5 });
  const c = canvasAt(bx, by - C_PAD, C_BOX_W + 18, C_BOX_H + 2 * C_PAD);
  new Chart(c, {
    type: 'scatter',
    data: {
      datasets: [
        { data: dots.map(d => ({ x: d[0], y: d[1] })), pointRadius: 1.15, pointBorderWidth: 0,
          pointBackgroundColor: dots.map(d => ramp(UMAP_STOPS, d[2] / maxV)) },
        { type: 'line', data: UMAP_X.map((x, i) => ({ x: x, y: UMAP_Y[i] })), fill: 'shape',
          backgroundColor: 'rgba(210,210,210,0.5)', borderColor: 'rgba(220,220,220,0.9)', borderWidth: 1.5,
          pointRadius: 0, tension: 0.1 }
      ]
    },
    options: {
      layout: { padding: { top: C_PAD, bottom: C_PAD } },
      scales: {
        x: { display: false, min: 0, max: 10 },
        y: { display: false, min: 0, max: 7 },
        cb: { type: 'linear', position: 'right', min: 0, max: maxV,
              afterFit: s => { s.width = 18; noPad(s); },
              ticks: { autoSkip: false, stepSize: 1, font: { size: 6.5 }, padding: 7, color: '#333' },
              grid: { display: false, drawTicks: false }, border: { display: false } }
      }
    },
    plugins: [umapDeco]
  });
});

// ================= PANEL D =================
txt('D', 10, 457, { size: 13, bold: true });
txt('Genes-Peaks Correlation', 77, 507, { size: 9.5 });
txt('Spearman', 268, 583, { size: 7.5, bold: true, align: 'left' });
txt('correlation', 268, 591, { size: 7.5, bold: true, align: 'left' });

const D_TOP_PAD = 34, D_LABEL_W = 112, D_BOTTOM = 48;
const dCanvas = canvasAt(20, 542 - D_TOP_PAD, 123 + D_LABEL_W, D_TOP_PAD + 148 + D_BOTTOM);
new Chart(dCanvas, {
  type: 'bar',
  data: {
    labels: D_PEAKS,
    datasets: D_GENES.map((g, j) => ({
      label: g, data: D_PEAKS.map(() => 1),
      backgroundColor: D_CORR.map(r => divColor(r[j])),
      borderColor: '#ffffff', borderWidth: 0.5, borderSkipped: false,
      categoryPercentage: 1, barPercentage: 1
    }))
  },
  options: {
    indexAxis: 'y',
    layout: { padding: { top: D_TOP_PAD } },
    scales: {
      x: { stacked: true, min: 0, max: D_GENES.length, afterFit: s => { s.height = D_BOTTOM; },
           afterBuildTicks: s => { s.ticks = D_GENES.map((g, i) => ({ value: i + 0.5 })); },
           ticks: { autoSkip: false, minRotation: 90, maxRotation: 90, padding: 3, font: { size: 7.5 }, color: '#222',
                    callback: (v, i) => D_GENES[i] },
           grid: { display: false, drawTicks: false }, border: { display: false } },
      y: { stacked: true, position: 'right', afterFit: s => { s.width = D_LABEL_W; noPad(s); },
           ticks: { autoSkip: false, font: { size: 7.5 }, padding: 4, color: '#222' },
           grid: { display: false, drawTicks: false }, border: { display: false } }
    }
  },
  plugins: [{
    id: 'dDeco',
    afterDraw(ch) {
      const ctx = ch.ctx, a = ch.chartArea, sx = ch.scales.x;
      ctx.save();
      ctx.strokeStyle = '#222';
      ctx.lineWidth = 1;
      ctx.strokeRect(a.left + 0.5, a.top + 0.5, a.right - a.left - 1, a.bottom - a.top - 1);
      ctx.restore();
      dendro(ctx, D_DENDRO, D_GENES.map((g, i) => sx.getPixelForValue(i + 0.5)), (p, h) => [p, a.top - h], '#333');
    }
  }]
});
legendBar({
  x: 268, y: 604, w: 9, h: 45, labelW: 26, min: -0.115, max: 0.115, ticks: D_LEGEND_TICKS, size: 7.5, pad: 3,
  fmt: v => v < 0 ? '- ' + Math.abs(v) : String(v),
  paint: (ctx, a, sy) => {
    ctx.fillStyle = vGrad(ctx, a.top, a.bottom, [[0, '#2b77bf'], [0.5, '#ffffff'], [1, '#ef3b3b']]);
    ctx.fillRect(a.left, a.top, a.right - a.left, a.bottom - a.top);
    whiteTicks(ctx, a.left, a.right, sy, D_LEGEND_TICKS);
  }
});

// ================= PANEL E =================
txt('E', 372, 458, { size: 13, bold: true });
txt('Regulation Shifting', 545, 480, { size: 9.5 });
txt('Deactivating Genes', 452, 508, { size: 8, align: 'right' });
txt('Deactivating Peaks', 452, 557, { size: 8, align: 'right' });
txt('(Cluster 2)', 452, 574, { size: 8, align: 'right' });
txt('Activating Genes', 452, 613, { size: 8, align: 'right' });
txt('Activating Peaks', 452, 662, { size: 8, align: 'right' });
txt('(Cluster 3)', 452, 679, { size: 8, align: 'right' });
txt('Gli3', 443, 713, { size: 8 });
txt('Normalized', 715, 566, { size: 7.5, bold: true, align: 'left' });
txt('Data', 715, 574, { size: 7.5, bold: true, align: 'left' });

const E_BLOCKS = [
  { rows: E_DEACT_GENES, vals: E_DEACT_GENE_VALS, color: '#2070b4', dendro: E_DEACT_DENDRO, top: 490, height: 45 },
  { rows: E_DEACT_PEAKS, vals: E_DEACT_PEAK_VALS, color: '#2070b4', dendro: null, top: 537, height: 55 },
  { rows: E_ACT_GENES, vals: E_ACT_GENE_VALS, color: '#ee2a2e', dendro: E_ACT_DENDRO, top: 595, height: 45 },
  { rows: E_ACT_PEAKS, vals: E_ACT_PEAK_VALS, color: '#ee2a2e', dendro: null, top: 643, height: 54 },
  { rows: E_GLI3_ROWS, vals: E_GLI3_VALS, color: '#262626', dendro: null, top: 700, height: 27 }
];
E_BLOCKS.forEach((b, bi) => {
  const isLast = bi === E_BLOCKS.length - 1;
  const LP = 46, RW = 100, BH = isLast ? 30 : 0;
  const c = canvasAt(455, b.top, LP + 88 + RW, b.height + BH);
  new Chart(c, {
    type: 'bar',
    data: {
      labels: b.rows,
      datasets: T_BINS.map((t, j) => ({
        data: b.rows.map(() => 1),
        backgroundColor: b.vals.map(r => ramp([[0, '#ffffff'], [1, b.color]], r[j])),
        borderColor: '#ffffff', borderWidth: 0.5, borderSkipped: false,
        categoryPercentage: 1, barPercentage: 1
      }))
    },
    options: {
      indexAxis: 'y',
      layout: { padding: { left: LP } },
      scales: {
        x: isLast ? {
          stacked: true, min: 0, max: T_BINS.length, afterFit: s => { s.height = BH; },
          afterBuildTicks: s => { s.ticks = T_BINS.map((t, i) => ({ value: i + 0.5 })); },
          ticks: { autoSkip: false, minRotation: 45, maxRotation: 45, padding: 2, font: { size: 7 }, color: '#222',
                   callback: (v, i) => T_BINS[i] },
          grid: { display: false, drawTicks: false }, border: { display: false }
        } : { display: false, stacked: true, min: 0, max: T_BINS.length },
        y: { stacked: true, position: 'right', afterFit: s => { s.width = RW; noPad(s); },
             ticks: { autoSkip: false, font: { size: 8 }, padding: 2, color: '#222' },
             grid: { display: false, drawTicks: false }, border: { display: false } }
      }
    },
    plugins: [{
      id: 'eDeco',
      afterDraw(ch) {
        const ctx = ch.ctx, a = ch.chartArea, sy = ch.scales.y;
        ctx.save();
        ctx.strokeStyle = '#333';
        ctx.lineWidth = 1.2;
        ctx.strokeRect(a.left + 0.5, a.top + 0.5, a.right - a.left - 1, a.bottom - a.top - 1);
        ctx.restore();
        if (b.dendro) {
          dendro(ctx, b.dendro, b.rows.map((r, i) => sy.getPixelForValue(i)), (p, h) => [a.left - h, p], '#444');
        }
      }
    }]
  });
});
legendBar({
  x: 713, y: 588, w: 39, h: 43, labelW: 22, min: -0.025, max: 1.05, ticks: E_LEGEND_TICKS, size: 7.5, pad: 3,
  fmt: v => String(v),
  paint: (ctx, a, sy) => {
    const yTop = sy.getPixelForValue(1), yBot = sy.getPixelForValue(0);
    [['#2070b4', 0], ['#ee2a2e', 14], ['#262626', 29]].forEach(s => {
      ctx.fillStyle = vGrad(ctx, yTop, yBot, [[0, '#ffffff'], [1, s[0]]]);
      ctx.fillRect(a.left + s[1], a.top, 10, a.bottom - a.top);
      whiteTicks(ctx, a.left + s[1], a.left + s[1] + 10, sy, [1, 0.5]);
    });
  }
});
</script>
</body>
</html>
